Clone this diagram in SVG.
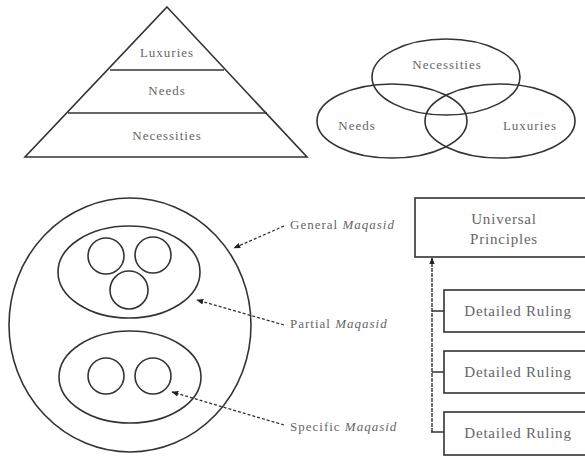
<svg xmlns="http://www.w3.org/2000/svg" width="585" height="457" viewBox="0 0 585 457">
<defs>
<style>
.s{fill:none;stroke:#333;stroke-width:1.6}
.t{font-family:"Liberation Serif",serif;font-size:13px;fill:#666;text-anchor:middle;letter-spacing:1px}
.b{font-size:15px;letter-spacing:0.8px}
.l{text-anchor:start}
.d{fill:none;stroke:#333;stroke-width:1.3;stroke-dasharray:3,2}
.v{fill:none;stroke:#333;stroke-width:1.4;stroke-dasharray:4,1}
</style>
<marker id="ah" viewBox="0 0 10 10" refX="9" refY="5" markerWidth="7" markerHeight="7" orient="auto-start-reverse" markerUnits="userSpaceOnUse">
<path d="M0,1 L10,5 L0,9 Z" fill="#222"/>
</marker>
</defs>
<rect width="585" height="457" fill="#fff"/>

<g id="pyramid">
<path class="s" d="M167,7 L307,157 L25,157 Z"/>
<line class="s" x1="110" y1="70" x2="224" y2="70"/>
<line class="s" x1="68" y1="113" x2="267" y2="113"/>
<text class="t" x="167" y="57">Luxuries</text>
<text class="t" x="167" y="95">Needs</text>
<text class="t" x="167" y="140">Necessities</text>
</g>

<g id="venn">
<ellipse class="s" cx="446" cy="77" rx="74" ry="38"/>
<ellipse class="s" cx="392" cy="121" rx="75" ry="37"/>
<ellipse class="s" cx="500" cy="121" rx="75" ry="37"/>
<text class="t" x="447" y="69">Necessities</text>
<text class="t" x="357" y="130">Needs</text>
<text class="t" x="530" y="130">Luxuries</text>
</g>

<g id="general">
<ellipse class="s" cx="130" cy="325" rx="121" ry="127"/>
</g>
<g id="partial">
<ellipse class="s" cx="129" cy="272" rx="71" ry="46"/>
<circle class="s" cx="106" cy="256" r="18"/>
<circle class="s" cx="153" cy="255" r="18"/>
<circle class="s" cx="129" cy="290" r="19"/>
</g>
<g id="specific">
<ellipse class="s" cx="130" cy="377" rx="71" ry="46"/>
<circle class="s" cx="106" cy="376" r="18"/>
<circle class="s" cx="153" cy="376" r="18"/>
</g>

<g id="label-general"><text class="t l" x="290" y="229">General <tspan font-style="italic">Maqasid</tspan></text></g>
<g id="label-partial"><text class="t l" x="290" y="328">Partial <tspan font-style="italic">Maqasid</tspan></text></g>
<g id="label-specific"><text class="t l" x="290" y="431">Specific <tspan font-style="italic">Maqasid</tspan></text></g>

<g id="universal">
<rect class="s" x="415" y="198" width="180" height="59"/>
<text class="t b" x="504" y="224">Universal</text>
<text class="t b" x="504" y="244">Principles</text>
</g>
<g id="ruling1">
<rect class="s" x="444" y="290" width="150" height="42"/>
<text class="t b" x="518" y="316">Detailed Ruling</text>
</g>
<g id="ruling2">
<rect class="s" x="444" y="351" width="150" height="42"/>
<text class="t b" x="518" y="377">Detailed Ruling</text>
</g>
<g id="ruling3">
<rect class="s" x="444" y="412" width="150" height="43"/>
<text class="t b" x="518" y="438">Detailed Ruling</text>
</g>

<g id="connectors">
<line class="d" x1="284" y1="226" x2="234" y2="248" marker-end="url(#ah)"/>
<line class="d" x1="284" y1="325" x2="197" y2="300" marker-end="url(#ah)"/>
<line class="d" x1="284" y1="425" x2="172" y2="392" marker-end="url(#ah)"/>
<line class="v" x1="432" y1="432" x2="432" y2="258" marker-end="url(#ah)"/>
<path class="s" d="M432,311 H444 M432,372 H444 M431,432 H444"/>
</g>
</svg>
